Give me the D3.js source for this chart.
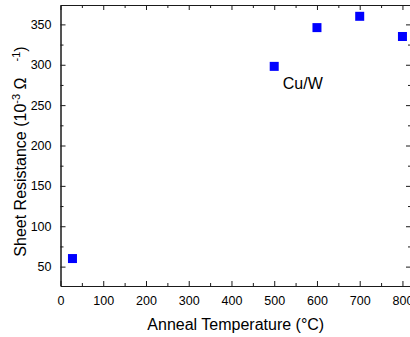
<!DOCTYPE html>
<html>
<head>
<meta charset="utf-8">
<script src="https://cdn.jsdelivr.net/npm/d3@7"></script>
<style>
    body { margin: 0; background: #fff; }
    svg { display: block; font-family: Arial, 'Liberation Sans', sans-serif; }
</style>
</head>
<body>
<div id="chart"></div>
<script>
const temperatures = [28, 500, 600, 700, 800]
const resistances = [60, 298, 346, 360, 335]
const xTicks = [0, 100, 200, 300, 400, 500, 600, 700, 800]
const yTicks = [50, 100, 150, 200, 250, 300, 350]
const sampleLabel = 'Cu/W'

const width = 410
const height = 337
const margin = { top: 5, right: -1, bottom: 51, left: 60.5 }

const x = d3
    .scaleLinear()
    .domain([0, 820])
    .range([margin.left, width - margin.right])
const y = d3
    .scaleLinear()
    .domain([26, 374])
    .range([height - margin.bottom, margin.top])

const xMinor = d3.range(50, 820, 100)
const yMinor = d3.range(75, 374, 50)

const svg = d3
    .select('#chart')
    .append('svg')
    .attr('width', width)
    .attr('height', height)

const axisColor = '#1a1a1a'

// inward ticks on all four sides
const drawAxis = (axis, ticks, offset, labels) => {
    const g = svg
        .append('g')
        .attr('transform', offset)
        .call(axis.tickValues(ticks).tickSizeOuter(0))
    g.select('.domain').attr('stroke', axisColor)
    g.selectAll('.tick line').attr('stroke', axisColor)
    g.selectAll('.tick text')
        .attr('fill', '#000')
        .style('font-size', '12.5px')
    if (!labels) g.selectAll('.tick text').remove()
    return g
}

const bottom = height - margin.bottom
const right = width - margin.right

drawAxis(d3.axisBottom(x).tickSize(-5).tickPadding(10), xTicks, `translate(0, ${bottom})`, true)
drawAxis(d3.axisBottom(x).tickSize(-3).tickFormat(''), xMinor, `translate(0, ${bottom})`, false)
drawAxis(d3.axisTop(x).tickSize(-5).tickFormat(''), xTicks, `translate(0, ${margin.top})`, false)
drawAxis(d3.axisTop(x).tickSize(-3).tickFormat(''), xMinor, `translate(0, ${margin.top})`, false)
drawAxis(d3.axisLeft(y).tickSize(-5).tickPadding(9), yTicks, `translate(${margin.left}, 0)`, true)
drawAxis(d3.axisLeft(y).tickSize(-3).tickFormat(''), yMinor, `translate(${margin.left}, 0)`, false)
drawAxis(d3.axisRight(y).tickSize(-5).tickFormat(''), yTicks, `translate(${right}, 0)`, false)
drawAxis(d3.axisRight(y).tickSize(-3).tickFormat(''), yMinor, `translate(${right}, 0)`, false)

// points
const size = 9
svg.append('g')
    .selectAll('rect')
    .data(temperatures.map((t, i) => ({ t, r: resistances[i] })))
    .enter()
    .append('rect')
    .attr('x', (d) => x(d.t) - size / 2)
    .attr('y', (d) => y(d.r) - size / 2)
    .attr('width', size)
    .attr('height', size)
    .attr('fill', '#0000ff')

svg.append('text')
    .attr('x', x(520))
    .attr('y', y(270))
    .style('font-size', '16px')
    .text(sampleLabel)

// axis titles
svg.append('text')
    .attr('x', (margin.left + right) / 2)
    .attr('y', 330)
    .attr('text-anchor', 'middle')
    .style('font-size', '16px')
    .text('Anneal Temperature (°C)')

const yTitle = svg
    .append('text')
    .attr('transform', `translate(25.5, ${(margin.top + bottom) / 2 + 6}) rotate(-90)`)
    .attr('text-anchor', 'middle')
    .style('font-size', '16px')
yTitle.append('tspan').text('Sheet Resistance (10')
yTitle.append('tspan').attr('dy', -6).style('font-size', '11px').text('-3')
yTitle.append('tspan').attr('dy', 6).text(' Ω')
yTitle.append('tspan').attr('dx', 16).attr('dy', -6).style('font-size', '11px').text('-1')
yTitle.append('tspan').attr('dy', 6).text(')')
</script>
</body>
</html>
